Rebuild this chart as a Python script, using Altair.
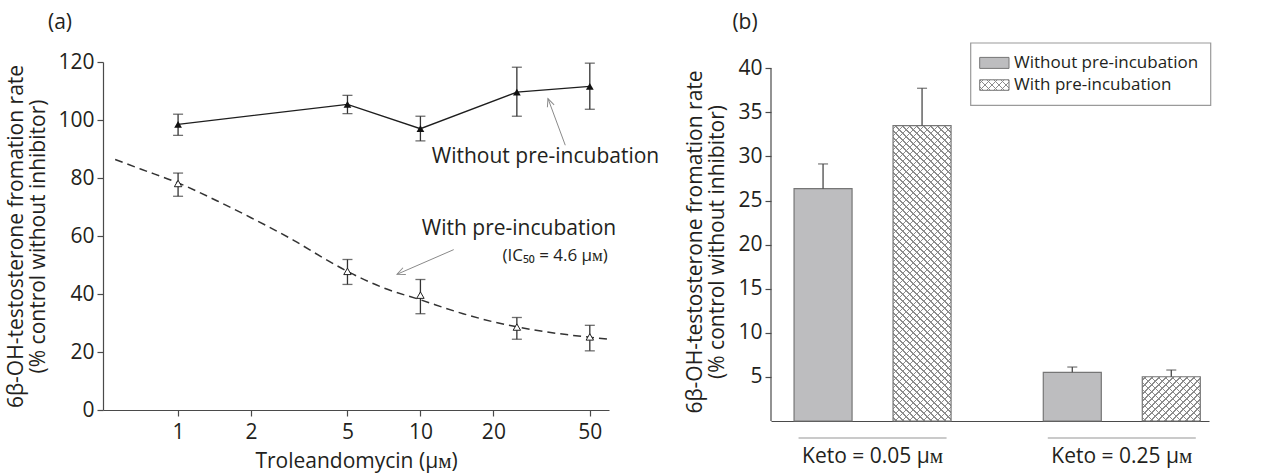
import altair as alt
import pandas as pd

# ---------------- Panel (a) data ----------------
tao_conc = [1, 5, 10, 25, 50]
without_rate = [98.5, 105.4, 97.0, 109.6, 111.6]
without_low = [94.7, 102.2, 92.8, 101.3, 103.7]
without_high = [102.0, 108.5, 101.3, 118.2, 119.6]
with_rate = [78.1, 47.8, 39.6, 28.6, 25.2]
with_low = [73.7, 43.3, 33.2, 24.4, 20.4]
with_high = [81.7, 51.9, 45.0, 31.9, 29.2]
fit_conc = [0.55, 0.7, 1, 1.5, 2, 3, 4, 5, 7, 10, 15, 20, 30, 40, 50, 60]
fit_rate = [86.4, 83.1, 78.3, 71.5, 66.3, 58.5, 52.3, 47.8, 42.2, 38.0, 33.2, 30.4, 27.5, 26.0, 25.1, 24.4]
x_ticks_a = [1, 2, 5, 10, 20, 50]
y_ticks_a = [0, 20, 40, 60, 80, 100, 120]

# ---------------- Panel (b) data ----------------
keto_groups = ["Keto = 0.05 μᴍ", "Keto = 0.25 μᴍ"]
series_names = ["Without pre-incubation", "With pre-incubation"]
b_without = [26.35, 5.52]
b_without_err = [29.15, 6.12]
b_with = [33.49, 5.02]
b_with_err = [37.73, 5.78]
y_ticks_b = [5, 10, 15, 20, 25, 30, 35, 40]

# ---------------- layout / style ----------------
FONT = "Open Sans"
FS = 21
TXT = "#231f20"
AX = "#4a4a4a"
WA, HA = 506, 348
WB, HB = 438, 359
YB_TOP = 40.71
PPU_B = HB / YB_TOP
BAR_W = 58.0
GRAY_FILL = "#bdbdbf"
BAR_STROKE = "#767676"
HATCH = "#8c8c8c"

# ================= Panel (a) =================
df_pts = pd.DataFrame({
    "conc": tao_conc * 2,
    "rate": without_rate + with_rate,
    "low": without_low + with_low,
    "high": without_high + with_high,
    "series": ["Without"] * 5 + ["With"] * 5,
})
df_without = df_pts[df_pts.series == "Without"]
df_with = df_pts[df_pts.series == "With"]
df_fit = pd.DataFrame({"conc": fit_conc, "rate": fit_rate})

xa = alt.X("conc:Q",
           scale=alt.Scale(type="log", domain=[0.49, 60], nice=False),
           axis=alt.Axis(values=x_ticks_a, format="d", title="Troleandomycin (μᴍ)",
                         titlePadding=8, labelPadding=5))
ya = alt.Y("rate:Q", scale=alt.Scale(domain=[0, 120], nice=False),
           axis=alt.Axis(values=y_ticks_a,
                         title=["6β-OH-testosterone fromation rate", "(% control without inhibitor)"],
                         titlePadding=9, labelPadding=3))

fit_line = alt.Chart(df_fit).mark_line(
    color="#333333", strokeWidth=1.5, strokeDash=[8, 5], interpolate="monotone"
).encode(x=xa, y=ya)

solid_line = alt.Chart(df_without).mark_line(color="#1e1e1e", strokeWidth=1.3).encode(x=xa, y=ya)

err_rule = alt.Chart(df_pts).mark_rule(color="#333333", strokeWidth=1.3).encode(
    x=xa, y=alt.Y("low:Q"), y2="high:Q")
cap_lo = alt.Chart(df_pts).mark_tick(orient="horizontal", size=10, thickness=1.3,
                                     color="#333333").encode(x=xa, y=alt.Y("low:Q"))
cap_hi = alt.Chart(df_pts).mark_tick(orient="horizontal", size=10, thickness=1.3,
                                     color="#333333").encode(x=xa, y=alt.Y("high:Q"))

pts_without = alt.Chart(df_without).mark_point(
    shape="triangle-up", filled=True, size=60, color="#111111", opacity=1
).encode(x=xa, y=ya)
pts_with = alt.Chart(df_with).mark_point(
    shape="triangle-up", filled=True, fill="white", stroke="#222222", strokeWidth=1,
    size=55, opacity=1
).encode(x=xa, y=ya)

ann_main = pd.DataFrame({
    "conc": [11.14, 10.13],
    "rate": [87.1, 62.3],
    "label": ["Without pre-incubation", "With pre-incubation"],
})
ann_main_txt = alt.Chart(ann_main).mark_text(
    align="left", baseline="middle", fontSize=FS, color=TXT, font=FONT
).encode(x="conc:Q", y="rate:Q", text="label:N")

ann_ic = pd.DataFrame({"conc": [21.8], "rate": [53.0], "label": ["(IC₅₀ = 4.6 μᴍ)"]})
ann_ic_txt = alt.Chart(ann_ic).mark_text(
    align="left", baseline="middle", fontSize=17, color=TXT, font=FONT
).encode(x="conc:Q", y="rate:Q", text="label:N")

arrows = pd.DataFrame({
    "conc": [39.6, 13.72], "rate": [91.3, 55.3],
    "conc2": [33.6, 8.01], "rate2": [107.4, 46.8],
    "ang": [339.6, 246.5],
})
arrow_shaft = alt.Chart(arrows).mark_rule(color="#8a8a8a", strokeWidth=1).encode(
    x="conc:Q", y="rate:Q", x2="conc2:Q", y2="rate2:Q")
arrow_head = alt.Chart(arrows).mark_point(
    shape="M-0.45,1L0,0L0.45,1", filled=False, size=256, stroke="#8a8a8a",
    strokeWidth=1, opacity=1
).encode(x="conc2:Q", y="rate2:Q", angle=alt.Angle("ang:Q", scale=None))

dummy = pd.DataFrame({"k": [0]})
label_a = alt.Chart(dummy).mark_text(fontSize=FS, color=TXT, font=FONT, baseline="middle").encode(
    x=alt.value(-43), y=alt.value(-38.7), text=alt.value("(a)"))

chart_a = alt.layer(
    fit_line, solid_line, err_rule, cap_lo, cap_hi, pts_without, pts_with,
    arrow_shaft, arrow_head, ann_main_txt, ann_ic_txt, label_a
).properties(width=WA, height=HA)

# ================= Panel (b) =================
df_b = pd.DataFrame({
    "group": keto_groups * 2,
    "series": [series_names[0]] * 2 + [series_names[1]] * 2,
    "value": b_without + b_with,
    "err": b_without_err + b_with_err,
})

xb = alt.X("group:N", sort=keto_groups,
           scale=alt.Scale(paddingInner=0.37, paddingOuter=0.0637, align=0.726),
           axis=alt.Axis(title=None, ticks=False, tickSize=0, labelAngle=0,
                         labelPadding=24, domainColor=AX))
xob = alt.XOffset("series:N", sort=series_names,
                  scale=alt.Scale(paddingInner=0.414, paddingOuter=0))
yb = alt.Y("value:Q", scale=alt.Scale(domain=[0, YB_TOP], nice=False),
           axis=alt.Axis(values=y_ticks_b, domain=False,
                         title=["6β-OH-testosterone fromation rate", "(% control without inhibitor)"],
                         titlePadding=10, labelPadding=3))


def hatch_gradient(w, h, direction, base):
    """Diagonal stripe gradient (45 deg in pixels) for a box of w x h pixels."""
    total = w + h
    period = 7.0
    half = 0.65 / total
    lam = total / (w * w + h * h)
    stops = []
    last = 0.0
    c = period / 2
    stops.append(alt.GradientStop(color=base, offset=0))
    while c < total:
        t = c / total
        a = max(last, t - half)
        b = min(1.0, t + half)
        stops.append(alt.GradientStop(color=base, offset=a))
        stops.append(alt.GradientStop(color=HATCH, offset=a))
        stops.append(alt.GradientStop(color=HATCH, offset=b))
        stops.append(alt.GradientStop(color=base, offset=b))
        last = b
        c += period
    stops.append(alt.GradientStop(color=base, offset=1))
    if direction == 1:
        return alt.LinearGradient(gradient="linear", stops=stops,
                                  x1=0, y1=0, x2=lam * w, y2=lam * h)
    return alt.LinearGradient(gradient="linear", stops=stops,
                              x1=0, y1=1, x2=lam * w, y2=1 - lam * h)


CLEAR = "rgba(255,255,255,0)"

gray_bars = alt.Chart(df_b).transform_filter(
    alt.datum.series == series_names[0]
).mark_bar(fill=GRAY_FILL, stroke=BAR_STROKE, strokeWidth=1.2).encode(x=xb, xOffset=xob, y=yb)

hatched_layers = []
for g, v in zip(keto_groups, b_with):
    hpx = v * PPU_B
    base_chart = alt.Chart(df_b).transform_filter(
        (alt.datum.series == series_names[1]) & (alt.datum.group == g))
    hatched_layers.append(base_chart.mark_bar(
        fill=hatch_gradient(BAR_W, hpx, 1, "white"), strokeWidth=0
    ).encode(x=xb, xOffset=xob, y=yb))
    hatched_layers.append(base_chart.mark_bar(
        fill=hatch_gradient(BAR_W, hpx, 2, CLEAR), stroke=BAR_STROKE, strokeWidth=1.2
    ).encode(x=xb, xOffset=xob, y=yb))

err_b = alt.Chart(df_b).mark_rule(color="#4a4a4a", strokeWidth=1.3).encode(
    x=xb, xOffset=xob, y="value:Q", y2="err:Q")
cap_b = alt.Chart(df_b).mark_tick(orient="horizontal", size=10, thickness=1.3,
                                  color="#4a4a4a").encode(x=xb, xOffset=xob, y="err:Q")

y_axis_line = alt.Chart(dummy).mark_rule(color=AX, strokeWidth=1.2).encode(
    x=alt.value(0), y=alt.datum(0), y2=alt.datum(40))

df_groups = pd.DataFrame({"group": keto_groups})
group_lines = alt.Chart(df_groups).mark_tick(
    orient="horizontal", size=148, thickness=1.5, color="#9a9a9a"
).encode(x=xb, y=alt.value(376))

# legend (drawn by hand, box with two swatches)
LX0, LX1, LY0, LY1 = 199.7, 439.7, -19.0, 43.3
leg_box = alt.Chart(dummy).mark_rect(fill="white", stroke="#9a9a9a", strokeWidth=1.2).encode(
    x=alt.value(LX0), x2=alt.value(LX1), y=alt.value(LY0), y2=alt.value(LY1))
SW_X0, SW_X1 = 208.7, 238.0
leg_sw1 = alt.Chart(dummy).mark_rect(fill=GRAY_FILL, stroke=BAR_STROKE, strokeWidth=1).encode(
    x=alt.value(SW_X0), x2=alt.value(SW_X1), y=alt.value(-4.6), y2=alt.value(6.4))
leg_sw2a = alt.Chart(dummy).mark_rect(
    fill=hatch_gradient(SW_X1 - SW_X0, 10.5, 1, "white"), strokeWidth=0).encode(
    x=alt.value(SW_X0), x2=alt.value(SW_X1), y=alt.value(17.8), y2=alt.value(28.3))
leg_sw2b = alt.Chart(dummy).mark_rect(
    fill=hatch_gradient(SW_X1 - SW_X0, 10.5, 2, CLEAR), stroke=BAR_STROKE, strokeWidth=1).encode(
    x=alt.value(SW_X0), x2=alt.value(SW_X1), y=alt.value(17.8), y2=alt.value(28.3))
leg_txt1 = alt.Chart(dummy).mark_text(align="left", baseline="middle", fontSize=17,
                                      color=TXT, font=FONT).encode(
    x=alt.value(243), y=alt.value(0.5), text=alt.value(series_names[0]))
leg_txt2 = alt.Chart(dummy).mark_text(align="left", baseline="middle", fontSize=17,
                                      color=TXT, font=FONT).encode(
    x=alt.value(243), y=alt.value(22.5), text=alt.value(series_names[1]))

label_b = alt.Chart(dummy).mark_text(fontSize=FS, color=TXT, font=FONT, baseline="middle").encode(
    x=alt.value(-26), y=alt.value(-38.7), text=alt.value("(b)"))

chart_b = alt.layer(
    gray_bars, *hatched_layers, err_b, cap_b, y_axis_line, group_lines,
    leg_box, leg_sw1, leg_sw2a, leg_sw2b, leg_txt1, leg_txt2, label_b
).properties(width=WB, height=HB)

chart = alt.hconcat(chart_a, chart_b, spacing=162, bounds="flush").properties(
    padding={"left": 5, "top": 12, "right": 5, "bottom": 5}
).configure(font=FONT).configure_view(stroke=None).configure_axis(
    grid=False, domainColor=AX, tickColor=AX, domainWidth=1.2, tickWidth=1.2, tickSize=6,
    labelColor=TXT, titleColor=TXT, labelFontSize=FS, titleFontSize=FS,
    titleFontWeight="normal", labelFont=FONT, titleFont=FONT, titleLineHeight=22
)

chart.save("out.html", embed_options={"renderer": "svg", "actions": False})
